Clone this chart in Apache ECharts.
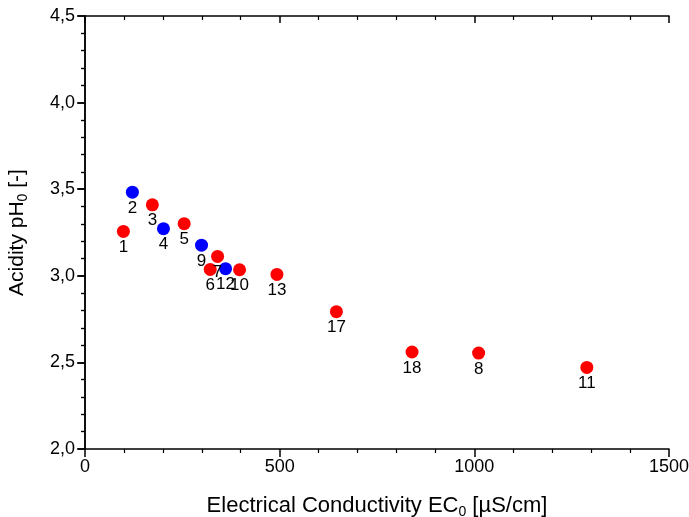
<!DOCTYPE html>
<html>
<head>
<meta charset="utf-8">
<script src="https://cdn.jsdelivr.net/npm/echarts@6/dist/echarts.min.js"></script>
<style>html,body{margin:0;padding:0;background:#fff}#c{width:689px;height:517px}</style>
</head>
<body>
<div id="c"></div>
<script>
const redIds = ['1','3','5','7','6','10','13','17','18','8','11'];
const redEC  = [98.6, 173, 254.7, 340.5, 321.6, 397, 493, 645.7, 840, 1011, 1289];
const redPH  = [3.256, 3.410, 3.301, 3.112, 3.037, 3.035, 3.008, 2.793, 2.560, 2.554, 2.471];
const blueIds = ['2','4','9','12'];
const blueEC  = [121.7, 201.5, 299.3, 361];
const bluePH  = [3.483, 3.272, 3.177, 3.041];
const xTicks = [0, 500, 1000, 1500];
const yTicks = [2.0, 2.5, 3.0, 3.5, 4.0, 4.5];

const FONT = 'Liberation Sans, Arial, sans-serif';
const fmtY = v => v.toFixed(1).replace('.', ',');
const fmtX = v => String(v);
const mk = (xs, ys, ids) => xs.map((x, i) => ({value: [x, ys[i]], name: ids[i]}));

const axisLine = {show: true, lineStyle: {color: '#000', width: 1.5}};
const lblStyle = {color: '#000', fontSize: 18, fontFamily: FONT};
const richT = (fs, lh) => ({
  a: {fontSize: fs, fontFamily: FONT, color: '#000', lineHeight: lh},
  s: {fontSize: Math.round(fs * 0.65), fontFamily: FONT, color: '#000', lineHeight: 10, verticalAlign: 'bottom'}
});

const chart = echarts.init(document.getElementById('c'));
chart.setOption({
  animation: false,
  grid: {left: 85, right: 20, top: 16, bottom: 68, containLabel: false, outerBoundsMode: 'none'},
  xAxis: [{
    type: 'value', position: 'bottom', min: xTicks[0], max: xTicks[xTicks.length-1], interval: 500,
    axisLine, splitLine: {show: false},
    axisTick: {show: true, inside: false, length: 8, lineStyle: {color: '#000', width: 1.5}},
    minorTick: {show: true, splitNumber: 5, length: 4, lineStyle: {color: '#000', width: 1.2}},
    axisLabel: Object.assign({margin: 9, formatter: fmtX}, lblStyle),
    name: '{a|Electrical Conductivity EC}{s|0}{a| [µS/cm]}',
    nameLocation: 'middle', nameGap: 44,
    nameTextStyle: {fontFamily: FONT, color: '#000', rich: richT(22, 26)}
  }, {
    type: 'value', position: 'top', min: 0, max: 1500, interval: 500,
    axisLine, splitLine: {show: false},
    axisTick: {show: true, inside: true, length: 7, lineStyle: {color: '#000', width: 1.5}},
    minorTick: {show: true, splitNumber: 5, length: 4, lineStyle: {color: '#000', width: 1.2}},
    axisLabel: {show: false}
  }],
  yAxis: [{
    type: 'value', position: 'left', min: yTicks[0], max: yTicks[yTicks.length-1], interval: 0.5,
    axisLine, splitLine: {show: false},
    axisTick: {show: true, inside: false, length: 8, lineStyle: {color: '#000', width: 1.5}},
    minorTick: {show: true, splitNumber: 5, length: 4, lineStyle: {color: '#000', width: 1.2}},
    axisLabel: Object.assign({margin: 10, formatter: fmtY}, lblStyle),
    name: '{a|Acidity pH}{s|0}{a| [-]}',
    nameLocation: 'middle', nameGap: 55,
    nameTextStyle: {fontFamily: FONT, color: '#000', rich: richT(21, 26)}
  }, {
    type: 'value', position: 'right', min: 2, max: 4.5, interval: 0.5,
    axisLine, splitLine: {show: false},
    axisTick: {show: true, inside: true, length: 7, lineStyle: {color: '#000', width: 1.5}},
    minorTick: {show: true, splitNumber: 5, length: 4, lineStyle: {color: '#000', width: 1.2}},
    axisLabel: {show: false}
  }],
  series: [{
    type: 'scatter', data: mk(redEC, redPH, redIds), symbolSize: 13,
    itemStyle: {color: '#ff0000', opacity: 1},
    label: {show: true, position: 'bottom', distance: 1, formatter: p => p.name, color: '#000', fontSize: 17, fontFamily: FONT}
  }, {
    type: 'scatter', data: mk(blueEC, bluePH, blueIds), symbolSize: 13,
    itemStyle: {color: '#0000ff', opacity: 1},
    label: {show: true, position: 'bottom', distance: 1, formatter: p => p.name, color: '#000', fontSize: 17, fontFamily: FONT}
  }]
});
</script>
</body>
</html>
